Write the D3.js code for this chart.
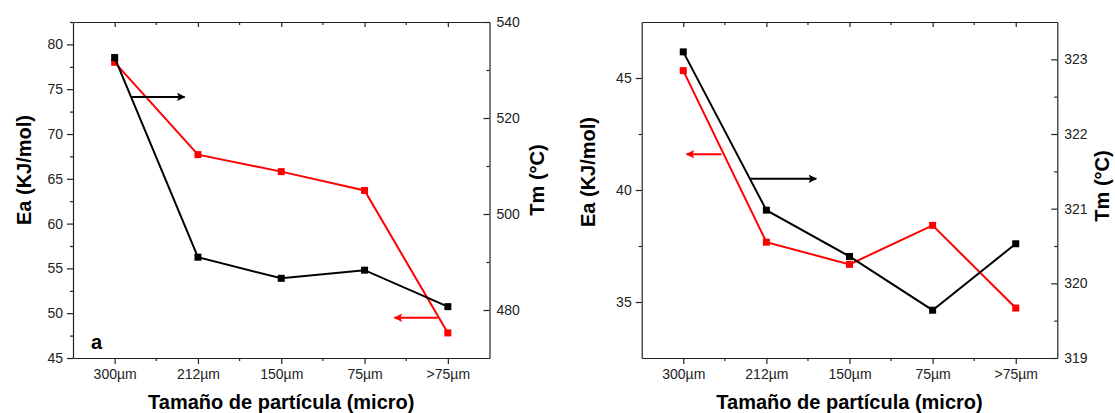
<!DOCTYPE html>
<html>
<head>
<meta charset="utf-8">
<script src="https://cdn.jsdelivr.net/npm/d3@7"></script>
<style>
  body { margin: 0; background: #fff; }
  svg { display: block; font-family: Arial, "Liberation Sans", sans-serif; }
  .tick text { font-size: 14px; fill: #222; }
  .domain, .tick line { stroke: #222; stroke-width: 1.2; }
  .title { font-weight: bold; font-size: 20px; fill: #000; }
</style>
</head>
<body>
<script>
// categories (particle size)
var categories = ['300µm', '212µm', '150µm', '75µm', '>75µm'];

// panel a
var eaA = [78.0, 67.7, 65.8, 63.7, 47.8];          // Ea (KJ/mol), red, left axis
var tmA = [532.6, 491.0, 486.6, 488.3, 480.7];     // Tm (°C), black, right axis
var eaTicksA = [45, 50, 55, 60, 65, 70, 75, 80];
var tmTicksA = [480, 500, 520, 540];

// panel b
var eaB = [45.33, 37.67, 36.68, 38.42, 34.73];
var tmB = [323.10, 320.98, 320.36, 319.64, 320.53];
var eaTicksB = [35, 40, 45];
var tmTicksB = [319, 320, 321, 322, 323];

var W = 1115, H = 413;
var svg = d3.select('body').append('svg').attr('width', W).attr('height', H);

var defs = svg.append('defs');
[['arrRed', 'red'], ['arrBlack', 'black']].forEach(function(m) {
  defs.append('marker')
    .attr('id', m[0])
    .attr('viewBox', '0 0 10 10')
    .attr('refX', 9).attr('refY', 5)
    .attr('markerWidth', 7).attr('markerHeight', 4.2)
    .attr('markerUnits', 'strokeWidth')
    .attr('orient', 'auto')
    .append('path')
    .attr('d', 'M0,0 L10,5 L0,10 L2,5 z')
    .attr('fill', m[1]);
});

var fmt = d3.format('d');

function panel(p) {
  var g = svg.append('g');
  var x = d3.scalePoint().domain(categories).range([p.left, p.right]).padding(0.5);
  var yEa = d3.scaleLinear().domain(p.eaDomain).range([p.bottom, p.top]);
  var yTm = d3.scaleLinear().domain(p.tmDomain).range([p.bottom, p.top]);
  var step = x.step();
  var xf = function(i) { return x(categories[0]) + i * step; };

  var xMinor = d3.range(categories.length - 1).map(function(i) { return xf(i + 0.5); });

  // bottom axis
  g.append('g').attr('transform', 'translate(0,' + p.bottom + ')')
    .call(d3.axisBottom(x).tickSize(6).tickSizeOuter(0).tickPadding(5));
  g.append('g').attr('transform', 'translate(0,' + p.bottom + ')')
    .selectAll('line').data(xMinor).enter().append('line')
    .attr('x1', function(d) { return d; }).attr('x2', function(d) { return d; })
    .attr('y1', 0).attr('y2', 3).attr('stroke', '#222').attr('stroke-width', 1.2);

  // top axis (ticks inward)
  g.append('g').attr('transform', 'translate(0,' + p.top + ')')
    .call(d3.axisTop(x).tickSize(-5).tickSizeOuter(0).tickFormat(''));
  g.append('g').attr('transform', 'translate(0,' + p.top + ')')
    .selectAll('line').data(xMinor).enter().append('line')
    .attr('x1', function(d) { return d; }).attr('x2', function(d) { return d; })
    .attr('y1', 0).attr('y2', 3).attr('stroke', '#222').attr('stroke-width', 1.2);

  // left axis Ea
  g.append('g').attr('transform', 'translate(' + p.left + ',0)')
    .call(d3.axisLeft(yEa).tickValues(p.eaTicks).tickFormat(fmt).tickSize(6).tickSizeOuter(0).tickPadding(4));
  g.append('g').attr('transform', 'translate(' + p.left + ',0)')
    .call(d3.axisLeft(yEa).tickValues(p.eaMinor).tickSize(3).tickSizeOuter(0).tickFormat(''))
    .select('.domain').remove();

  // right axis Tm (ticks inward)
  g.append('g').attr('transform', 'translate(' + p.right + ',0)')
    .call(d3.axisRight(yTm).tickValues(p.tmTicks).tickFormat(fmt).tickSize(-6).tickSizeOuter(0).tickPadding(7));
  g.append('g').attr('transform', 'translate(' + p.right + ',0)')
    .call(d3.axisRight(yTm).tickValues(p.tmMinor).tickSize(-3).tickSizeOuter(0).tickFormat(''))
    .select('.domain').remove();

  // series
  var lineEa = d3.line().x(function(d, i) { return x(categories[i]); }).y(function(d) { return yEa(d); });
  var lineTm = d3.line().x(function(d, i) { return x(categories[i]); }).y(function(d) { return yTm(d); });

  g.append('path').datum(p.ea).attr('d', lineEa)
    .attr('fill', 'none').attr('stroke', 'red').attr('stroke-width', 2);
  g.selectAll('.mEa').data(p.ea).enter().append('rect')
    .attr('x', function(d, i) { return x(categories[i]) - 3.5; })
    .attr('y', function(d) { return yEa(d) - 3.5; })
    .attr('width', 7).attr('height', 7).attr('fill', 'red');

  g.append('path').datum(p.tm).attr('d', lineTm)
    .attr('fill', 'none').attr('stroke', 'black').attr('stroke-width', 2);
  g.selectAll('.mTm').data(p.tm).enter().append('rect')
    .attr('x', function(d, i) { return x(categories[i]) - 3.5; })
    .attr('y', function(d) { return yTm(d) - 3.5; })
    .attr('width', 7).attr('height', 7).attr('fill', 'black');

  // arrows
  p.arrows.forEach(function(a) {
    var sc = a.axis === 'ea' ? yEa : yTm;
    g.append('line')
      .attr('x1', xf(a.from)).attr('x2', xf(a.to))
      .attr('y1', sc(a.y)).attr('y2', sc(a.y))
      .attr('stroke', a.color).attr('stroke-width', 2)
      .attr('marker-end', a.color === 'red' ? 'url(#arrRed)' : 'url(#arrBlack)');
  });

  // titles
  g.append('text').attr('class', 'title')
    .attr('x', (p.left + p.right) / 2).attr('y', 409)
    .attr('text-anchor', 'middle').text('Tamaño de partícula (micro)');
  g.append('text').attr('class', 'title')
    .attr('transform', 'translate(' + p.eaTitleX + ',' + p.eaTitleY + ') rotate(-90)')
    .attr('text-anchor', 'middle').text('Ea (KJ/mol)');
  g.append('text').attr('class', 'title')
    .attr('transform', 'translate(' + p.tmTitleX + ',' + p.tmTitleY + ') rotate(-90)')
    .attr('text-anchor', 'middle').text('Tm (°C)');

  if (p.tag) {
    g.append('text').attr('class', 'title').attr('x', p.left + 18).attr('y', p.bottom - 9).text(p.tag);
  }
}

panel({
  left: 73, right: 489.5, top: 22, bottom: 358,
  eaDomain: [45, 82.5], tmDomain: [470, 540],
  ea: eaA, tm: tmA,
  eaTicks: eaTicksA, eaMinor: d3.range(47.5, 83, 5),
  tmTicks: tmTicksA, tmMinor: d3.range(490, 540, 20),
  arrows: [
    { axis: 'tm', y: 524.4, from: 0.2, to: 0.84, color: 'black' },
    { axis: 'ea', y: 49.5, from: 3.88, to: 3.36, color: 'red' }
  ],
  eaTitleX: 31, eaTitleY: 170, tmTitleX: 544, tmTitleY: 180,
  tag: 'a'
});

panel({
  left: 641.7, right: 1057.3, top: 22, bottom: 358,
  eaDomain: [32.5, 47.5], tmDomain: [319, 323.5],
  ea: eaB, tm: tmB,
  eaTicks: eaTicksB, eaMinor: [37.5, 42.5],
  tmTicks: tmTicksB, tmMinor: [319.5, 320.5, 321.5, 322.5],
  arrows: [
    { axis: 'ea', y: 41.6, from: 0.46, to: 0.04, color: 'red' },
    { axis: 'tm', y: 321.4, from: 0.8, to: 1.6, color: 'black' }
  ],
  eaTitleX: 595, eaTitleY: 172, tmTitleX: 1109, tmTitleY: 186,
  tag: null
});
</script>
</body>
</html>
